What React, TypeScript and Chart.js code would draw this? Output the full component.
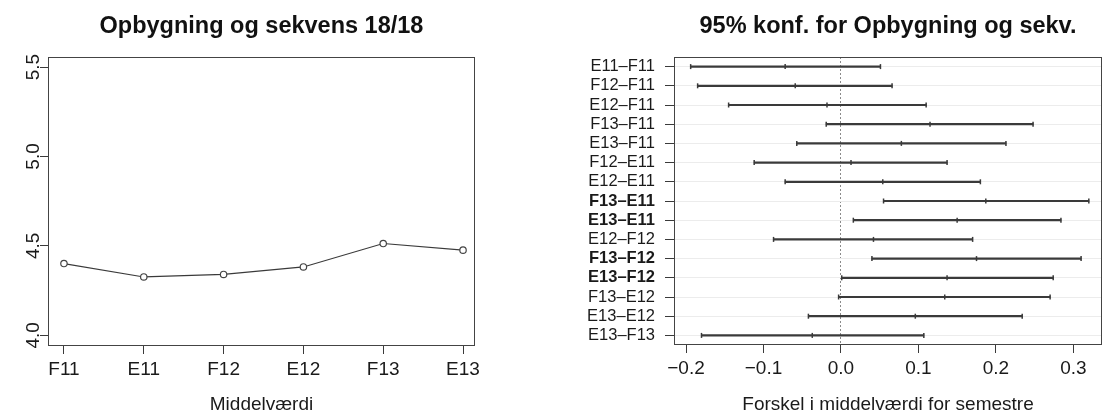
import React, { useEffect, useRef } from "react";
import { Chart, registerables } from "chart.js";

Chart.register(...registerables);

// ---------- Left chart data ----------
const semesters = ["F11", "E11", "F12", "E12", "F13", "E13"];
const meanValues = [4.401, 4.326, 4.34, 4.382, 4.513, 4.476];
const leftYTicks = [4.0, 4.5, 5.0, 5.5];

// ---------- Right chart data ----------
const pairLabels = [
  "E11–F11",
  "F12–F11",
  "E12–F11",
  "F13–F11",
  "E13–F11",
  "F12–E11",
  "E12–E11",
  "F13–E11",
  "E13–E11",
  "E12–F12",
  "F13–F12",
  "E13–F12",
  "F13–E12",
  "E13–E12",
  "E13–F13",
];
const ciLower = [-0.194, -0.185, -0.145, -0.019, -0.057, -0.112, -0.072, 0.055, 0.016, -0.087, 0.04, 0.001, -0.003, -0.042, -0.18];
const ciCenter = [-0.072, -0.059, -0.018, 0.115, 0.078, 0.013, 0.054, 0.187, 0.15, 0.042, 0.175, 0.137, 0.134, 0.096, -0.037];
const ciUpper = [0.051, 0.066, 0.11, 0.248, 0.213, 0.137, 0.18, 0.32, 0.284, 0.17, 0.31, 0.274, 0.27, 0.234, 0.107];
const significant = [false, false, false, false, false, false, false, true, true, false, true, true, false, false, false];
const rightXTicks = [-0.2, -0.1, 0.0, 0.1, 0.2, 0.3];

const FONT = "'Liberation Sans', Arial, Helvetica, sans-serif";
const INK = "#3a3a3a";
const TEXT = "#1a1a1a";

const boxPlugin = {
  id: "rBox",
  afterDraw(chart: any) {
    const { ctx, chartArea: a } = chart;
    ctx.save();
    ctx.strokeStyle = "#444";
    ctx.lineWidth = 1;
    const l = Math.round(a.left) + 0.5;
    const t = Math.round(a.top) + 0.5;
    const r = Math.round(a.right) - 0.5;
    const b = Math.round(a.bottom) - 0.5;
    ctx.strokeRect(l, t, r - l, b - t);
    ctx.restore();
  },
};

const fmt = (v: number) => (v < 0 ? "\u2212" + Math.abs(v).toFixed(1) : v.toFixed(1));

export default function App() {
  const leftRef = useRef<HTMLCanvasElement>(null);
  const rightRef = useRef<HTMLCanvasElement>(null);

  useEffect(() => {
    const left = new Chart(leftRef.current!, {
      type: "line",
      data: {
        datasets: [
          {
            data: meanValues.map((v, i) => ({ x: i, y: v })),
            borderColor: INK,
            borderWidth: 1.2,
            pointRadius: 3.2,
            pointBorderWidth: 1.2,
            pointBorderColor: "#444",
            pointBackgroundColor: "#fff",
            tension: 0,
          },
        ],
      },
      options: {
        animation: false,
        responsive: false,
        maintainAspectRatio: false,
        layout: { padding: { top: 57, right: 65, left: 0, bottom: 0 } },
        plugins: { legend: { display: false }, tooltip: { enabled: false }, title: { display: false } },
        scales: {
          x: {
            type: "linear",
            min: -0.2,
            max: 5.15,
            afterBuildTicks: (s: any) => {
              s.ticks = semesters.map((_, i) => ({ value: i }));
            },
            afterFit: (s: any) => {
              s.height = 70;
            },
            ticks: {
              callback: (v: any) => semesters[v as number],
              font: { family: FONT, size: 19 },
              color: TEXT,
              padding: 4,
              maxRotation: 0,
              autoSkip: false,
            },
            grid: { drawOnChartArea: false, tickLength: 8, tickColor: INK },
            border: { display: false },
            title: {
              display: true,
              text: "Middelværdi",
              font: { family: FONT, size: 19 },
              color: TEXT,
              padding: { top: 0, bottom: 0 },
            },
          },
          y: {
            type: "linear",
            min: 3.94,
            max: 5.556,
            afterBuildTicks: (s: any) => {
              s.ticks = leftYTicks.map((v) => ({ value: v }));
            },
            afterFit: (s: any) => {
              s.width = 48;
            },
            ticks: {
              callback: (v: any) => Number(v).toFixed(1),
              minRotation: 90,
              maxRotation: 90,
              crossAlign: "center",
              padding: -7,
              font: { family: FONT, size: 19 },
              color: TEXT,
            },
            grid: { drawOnChartArea: false, tickLength: 8, tickColor: INK },
            border: { display: false },
          },
        },
      },
      plugins: [boxPlugin],
    } as any);

    const lowPts = pairLabels.map((l, i) => ({ x: ciLower[i], y: l }));
    const midPts = pairLabels.map((l, i) => ({ x: ciCenter[i], y: l }));
    const highPts = pairLabels.map((l, i) => ({ x: ciUpper[i], y: l }));
    const markStyle = {
      type: "scatter",
      pointStyle: "line",
      pointRotation: 90,
      pointRadius: 2.5,
      pointHoverRadius: 2.5,
      pointBorderColor: INK,
      pointBorderWidth: 1.5,
      showLine: false,
    };

    const right = new Chart(rightRef.current!, {
      type: "bar",
      data: {
        labels: pairLabels,
        datasets: [
          {
            type: "bar",
            data: pairLabels.map((_, i) => [ciLower[i], ciUpper[i]]),
            backgroundColor: INK,
            barThickness: 1.5,
            borderWidth: 0,
          },
          { ...markStyle, data: lowPts },
          { ...markStyle, data: midPts },
          { ...markStyle, data: highPts },
        ],
      },
      options: {
        indexAxis: "y",
        animation: false,
        responsive: false,
        maintainAspectRatio: false,
        layout: { padding: { top: 57, right: 7, left: 0, bottom: 0 } },
        plugins: { legend: { display: false }, tooltip: { enabled: false }, title: { display: false } },
        scales: {
          x: {
            type: "linear",
            position: "bottom",
            min: -0.2155,
            max: 0.337,
            afterBuildTicks: (s: any) => {
              s.ticks = rightXTicks.map((v) => ({ value: v }));
            },
            afterFit: (s: any) => {
              s.height = 71;
            },
            ticks: {
              callback: (v: any) => fmt(Number(v)),
              font: { family: FONT, size: 19 },
              color: TEXT,
              padding: 4,
              maxRotation: 0,
              autoSkip: false,
            },
            grid: {
              color: (ctx: any) => (ctx.tick && ctx.tick.value === 0 ? "#8a8a8a" : "rgba(0,0,0,0)"),
              lineWidth: 1,
              tickColor: INK,
              tickLength: 8,
              tickBorderDash: [],
            },
            border: { display: false, dash: [2, 2] },
            title: {
              display: true,
              text: "Forskel i middelværdi for semestre",
              font: { family: FONT, size: 19 },
              color: TEXT,
              padding: { top: 0, bottom: 0 },
            },
          },
          y: {
            type: "category",
            position: "left",
            labels: pairLabels,
            offset: true,
            afterFit: (s: any) => {
              s.width = 114;
            },
            grid: { offset: false, color: "#ececec", tickColor: INK, tickLength: 9 },
            border: { display: false },
            ticks: {
              padding: 10,
              autoSkip: false,
              color: TEXT,
              font: (ctx: any) => ({
                family: FONT,
                size: 16.5,
                weight: significant[ctx.index] ? "bold" : "normal",
              }),
            },
          },
        },
      },
      plugins: [boxPlugin],
    } as any);

    return () => {
      left.destroy();
      right.destroy();
    };
  }, []);

  const titleStyle: React.CSSProperties = {
    position: "absolute",
    top: 11,
    textAlign: "center",
    fontWeight: "bold",
    fontSize: 23.5,
    fontFamily: FONT,
    color: "#111",
    whiteSpace: "nowrap",
    lineHeight: "28px",
  };

  return (
    <div style={{ position: "fixed", left: 0, top: 0, width: 1109, height: 416, background: "#fff" }}>
      <canvas ref={leftRef} width={540} height={416} style={{ position: "absolute", left: 0, top: 0, width: 540, height: 416 }} />
      <canvas ref={rightRef} width={549} height={416} style={{ position: "absolute", left: 560, top: 0, width: 549, height: 416 }} />
      <div style={{ ...titleStyle, left: 48, width: 427 }}>Opbygning og sekvens 18/18</div>
      <div style={{ ...titleStyle, left: 674, width: 428 }}>95% konf. for Opbygning og sekv.</div>
    </div>
  );
}
